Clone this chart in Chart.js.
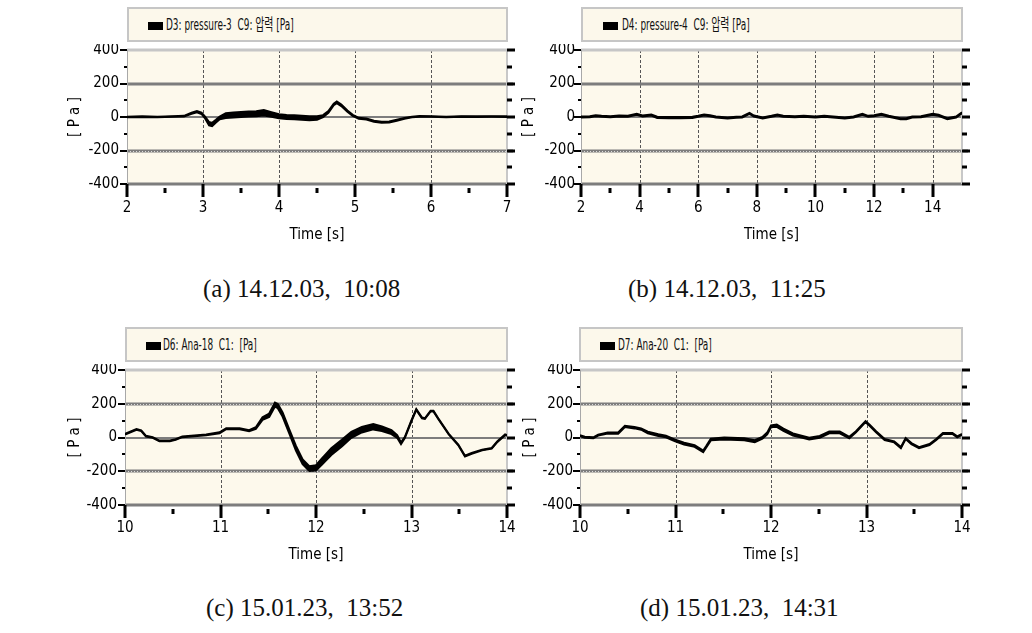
<!DOCTYPE html>
<html>
<head>
<meta charset="utf-8">
<script src="https://cdn.jsdelivr.net/npm/chart.js@4.4.1/dist/chart.umd.min.js"></script>
<style>
  html, body { margin:0; padding:0; background:#fff; }
  #page { position:relative; width:1032px; height:633px; overflow:hidden; background:#fff; }
  canvas { position:absolute; }
  .lg { position:absolute; box-sizing:border-box; border:2px solid #c6c6c6; background:#fcf8eb; height:35px; }
  .mk { position:absolute; width:15px; height:8px; background:#000; top:13px; }
  .tx { position:absolute; top:6px; line-height:19px; font-family:'Liberation Sans Narrow','DejaVu Sans Condensed','Liberation Sans','Noto Sans CJK KR',sans-serif; font-size:16px; color:#111; white-space:pre; transform:scaleX(0.62); transform-origin:0 50%; }
  .cap { position:absolute; font-family:'Liberation Serif','DejaVu Serif',serif; font-size:25px; line-height:30px; color:#111; white-space:pre; }
</style>
</head>
<body>
<div id="page">
  <div class="lg" style="left:127px;top:7px;width:381px;"><span class="mk" style="left:19px"></span><span class="tx" style="left:37px">D3: pressure-3  C9: 압력 [Pa]</span></div>
  <div class="lg" style="left:581px;top:7px;width:382px;"><span class="mk" style="left:20px"></span><span class="tx" style="left:39px">D4: pressure-4  C9: 압력 [Pa]</span></div>
  <div class="lg" style="left:125px;top:327px;width:383px;"><span class="mk" style="left:19px"></span><span class="tx" style="left:36px">D6: Ana-18  C1:  [Pa]</span></div>
  <div class="lg" style="left:579px;top:327px;width:384px;"><span class="mk" style="left:19px"></span><span class="tx" style="left:37px">D7: Ana-20  C1:  [Pa]</span></div>

  <canvas id="cA" width="460" height="210" style="left:60px;top:44px"></canvas>
  <canvas id="cB" width="460" height="210" style="left:520px;top:44px"></canvas>
  <canvas id="cC" width="460" height="210" style="left:60px;top:364px"></canvas>
  <canvas id="cD" width="460" height="210" style="left:520px;top:364px"></canvas>

  <div class="cap" style="left:203px;top:274px">(a) 14.12.03,  10:08</div>
  <div class="cap" style="left:628px;top:274px">(b) 14.12.03,  11:25</div>
  <div class="cap" style="left:206px;top:593px">(c) 15.01.23,  13:52</div>
  <div class="cap" style="left:640px;top:593px">(d) 15.01.23,  14:31</div>
</div>
<script>
// ---------------- data ----------------
// Panel (a): time [s], pressure [Pa], half-width of the noise band [Pa]
const timeA  = [2.0,2.2,2.4,2.6,2.75,2.85,2.92,2.98,3.03,3.08,3.12,3.17,3.22,3.3,3.4,3.5,3.6,3.7,3.8,3.9,4.0,4.1,4.2,4.3,4.4,4.5,4.58,4.65,4.72,4.76,4.82,4.9,4.97,5.05,5.15,5.25,5.35,5.45,5.55,5.65,5.75,5.85,6.0,6.2,6.4,6.6,6.8,7.0];
const pressA = [0,2,0,3,5,22,32,22,-5,-40,-45,-25,-5,8,12,15,18,20,25,15,5,0,-2,-5,-8,-6,5,30,75,88,70,35,10,-8,-12,-25,-32,-30,-20,-8,0,4,3,0,3,2,3,2];
const noiseA = [2,2,2,2,2,3,4,4,5,10,10,8,8,14,15,15,15,15,16,14,12,12,12,12,12,10,6,5,5,5,5,4,3,3,3,3,3,3,3,2,2,2,2,2,2,2,2,2];

// Panel (b)
const timeB  = [2.0,2.3,2.5,2.7,3.0,3.3,3.6,3.9,4.1,4.4,4.6,5.0,5.4,5.8,6.0,6.2,6.4,6.6,7.0,7.3,7.5,7.75,7.9,8.2,8.5,8.7,8.9,9.3,9.6,10.0,10.3,10.6,11.0,11.3,11.6,11.8,12.0,12.25,12.5,12.9,13.1,13.3,13.6,14.0,14.2,14.5,14.8,15.0];
const pressB = [0,2,8,4,2,6,4,16,6,12,-2,-4,-4,-2,4,12,8,0,-6,-2,0,22,6,-6,4,12,4,2,4,0,4,0,-6,0,16,4,8,16,4,-10,-10,0,2,16,10,-10,0,25];
const noiseB = [3,3,3,3,3,3,3,3,3,3,4,4,4,4,3,3,3,3,3,3,3,3,3,3,3,3,3,3,3,3,3,3,3,3,3,3,3,3,3,3,3,3,3,3,3,3,3,3];

// Panel (c)
const timeC  = [10.0,10.12,10.17,10.22,10.29,10.36,10.47,10.53,10.6,10.85,10.99,11.06,11.2,11.3,11.37,11.44,11.51,11.57,11.6,11.65,11.72,11.79,11.86,11.93,12.0,12.06,12.16,12.27,12.37,12.48,12.6,12.69,12.79,12.85,12.89,12.93,13.0,13.05,13.11,13.14,13.2,13.23,13.28,13.39,13.49,13.56,13.63,13.74,13.84,13.9,13.98,14.0];
const pressC = [20,48,40,8,0,-20,-20,-12,4,16,28,52,52,40,56,112,132,195,186,136,36,-64,-144,-184,-180,-144,-84,-34,16,46,64,52,32,6,-34,0,100,166,116,112,156,156,112,20,-44,-110,-94,-74,-64,-24,16,12];
const noiseC = [2,2,2,2,2,2,2,2,2,2,3,3,3,3,5,8,10,12,12,12,12,14,14,14,16,18,20,20,18,16,16,14,12,8,5,3,3,2,2,2,2,2,2,2,2,2,2,2,2,2,2,2];

// Panel (d)
const timeD  = [10.0,10.05,10.14,10.19,10.29,10.4,10.47,10.57,10.64,10.71,10.82,10.9,10.99,11.09,11.2,11.29,11.32,11.37,11.51,11.72,11.83,11.91,11.96,12.0,12.06,12.13,12.23,12.33,12.4,12.51,12.61,12.72,12.82,12.89,12.99,13.03,13.1,13.19,13.29,13.36,13.41,13.47,13.55,13.66,13.73,13.8,13.9,13.95,14.0];
const pressD = [10,2,-2,14,26,26,66,58,50,30,14,6,-16,-36,-50,-82,-56,-12,-6,-10,-22,-2,24,66,70,46,18,4,-6,4,30,30,0,34,94,74,34,-12,-26,-60,-6,-36,-60,-42,-12,24,24,4,18];
const noiseD = [3,3,3,3,3,4,4,4,4,5,5,5,5,5,5,5,4,5,6,6,6,5,5,6,7,7,6,5,5,5,5,5,4,3,3,3,3,3,3,3,3,3,3,3,3,3,3,3,3];

// axis ranges / tick labels
const yRange = [-400, 400];
const yStep = 200;
const xRangeA = [2, 7],   xStepA = 1;
const xRangeB = [2, 15],  xStepB = 2;
const xRangeC = [10, 14], xStepC = 1;
const xRangeD = [10, 14], xStepD = 1;
const xTitle = 'Time [s]';
const yTitle = '[ P a ]';

// ---------------- styling / drawing ----------------
const FONT = "'Liberation Sans Narrow','DejaVu Sans Condensed','Liberation Sans',sans-serif";

function seg(ctx, x1, y1, x2, y2) { ctx.beginPath(); ctx.moveTo(x1, y1); ctx.lineTo(x2, y2); ctx.stroke(); }

const decor = {
  id: 'decor',
  beforeDatasetsDraw(chart, args, o) {
    const { ctx, chartArea: a, scales: { x, y } } = chart;
    ctx.save();
    ctx.fillStyle = '#fdf9ec';
    ctx.fillRect(a.left, a.top, a.right - a.left, a.bottom - a.top);
    ctx.strokeStyle = '#555'; ctx.lineWidth = 1; ctx.setLineDash([3, 2]);
    x.ticks.forEach(t => {
      if (t.value > x.min && t.value < x.max) {
        const px = Math.round(x.getPixelForValue(t.value)) + 0.5;
        seg(ctx, px, a.top, px, a.bottom);
      }
    });
    ctx.setLineDash([]);
    y.ticks.forEach(t => {
      const py = Math.round(y.getPixelForValue(t.value));
      if (t.value === y.max) { ctx.strokeStyle = '#c6c6c6'; ctx.lineWidth = 3; seg(ctx, a.left, py, a.right, py); }
      else if (t.value === y.min) { ctx.strokeStyle = '#7d7d7d'; ctx.lineWidth = 3; seg(ctx, a.left, py, a.right, py); }
      else if (t.value === 0) { ctx.strokeStyle = '#7d7d7d'; ctx.lineWidth = 2; seg(ctx, a.left, py, a.right, py); }
      else {
        ctx.strokeStyle = '#7d7d7d'; ctx.lineWidth = 3; seg(ctx, a.left, py, a.right + 6, py);
        if (!(o.solidUpper && t.value > 0)) {
          ctx.strokeStyle = '#dcdcdc'; ctx.lineWidth = 1; ctx.setLineDash([1, 2]);
          seg(ctx, a.left, py + 0.5, a.right, py + 0.5); ctx.setLineDash([]);
        }
      }
    });
    ctx.strokeStyle = '#c8c8c8'; ctx.lineWidth = 2; seg(ctx, a.right, a.top, a.right, a.bottom);
    ctx.strokeStyle = '#a8a8a8'; ctx.lineWidth = 1; seg(ctx, a.left + 0.5, a.top, a.left + 0.5, a.bottom);
    ctx.restore();
  },
  afterDraw(chart) {
    const { ctx, chartArea: a, scales: { x, y } } = chart;
    ctx.save();
    ctx.strokeStyle = '#000';
    const yt = y.ticks.map(t => t.value);
    const xt = x.ticks.map(t => t.value);
    yt.forEach((v, i) => {
      const py = Math.round(y.getPixelForValue(v));
      ctx.lineWidth = 2; seg(ctx, a.left - 7, py, a.left, py);
      ctx.lineWidth = 3; seg(ctx, a.right, py, a.right + 8, py);
      if (i < yt.length - 1) {
        const pm = Math.round(y.getPixelForValue((v + yt[i + 1]) / 2));
        ctx.lineWidth = 2; seg(ctx, a.left - 3, pm, a.left, pm);
        ctx.lineWidth = 3; seg(ctx, a.right, pm, a.right + 5, pm);
      }
    });
    xt.forEach((v, i) => {
      const px = Math.round(x.getPixelForValue(v));
      ctx.lineWidth = 3; seg(ctx, px, a.bottom, px, a.bottom + 13);
      if (i < xt.length - 1) {
        const pm = Math.round(x.getPixelForValue((v + xt[i + 1]) / 2));
        seg(ctx, pm, a.bottom + 4, pm, a.bottom + 9);
      }
    });
    ctx.restore();
  }
};

function makePanel(id, times, press, noise, xRange, xStep, lay) {
  const hi = times.map((t, i) => ({ x: t, y: press[i] + noise[i] }));
  const lo = times.map((t, i) => ({ x: t, y: press[i] - noise[i] }));
  const tickFont = { family: FONT, size: 15 };
  return new Chart(document.getElementById(id), {
    type: 'line',
    data: {
      datasets: [
        { data: hi, borderColor: '#000', borderWidth: 2, pointRadius: 0, fill: false, tension: 0 },
        { data: lo, borderColor: '#000', borderWidth: 2, pointRadius: 0, fill: '-1', backgroundColor: '#000', tension: 0 }
      ]
    },
    options: {
      responsive: false, animation: false, events: [],
      layout: { padding: { left: 0, top: lay.top, right: lay.right, bottom: 0 } },
      plugins: { legend: { display: false }, tooltip: { enabled: false }, decor: { solidUpper: lay.solidUpper } },
      scales: {
        x: {
          type: 'linear', min: xRange[0], max: xRange[1],
          afterFit: s => { s.height = lay.xh; s.paddingLeft = 0; s.paddingRight = 0; },
          grid: { display: false, drawTicks: false }, border: { display: false },
          ticks: { stepSize: xStep, includeBounds: false, padding: lay.xpad, font: tickFont, color: '#000', maxRotation: 0, autoSkip: false },
          title: { display: true, text: xTitle, font: { family: FONT, size: 15 }, color: '#000', padding: { top: 0, bottom: lay.xtpad } }
        },
        y: {
          min: yRange[0], max: yRange[1],
          afterFit: s => { s.width = lay.yw; s.paddingTop = 0; s.paddingBottom = 0; },
          grid: { display: false, drawTicks: false }, border: { display: false },
          ticks: { stepSize: yStep, padding: lay.ypad, font: tickFont, color: '#000' },
          title: { display: true, text: yTitle, font: { family: FONT, size: 15 }, color: '#000', padding: { top: lay.ytpad, bottom: 0 } }
        }
      }
    },
    plugins: [decor]
  });
}

makePanel('cA', timeA, pressA, noiseA, xRangeA, xStepA, { top: 6, right: 13, yw: 67, xh: 70, xpad: 15, xtpad: 10, ypad: 8, ytpad: 6, solidUpper: true });
makePanel('cB', timeB, pressB, noiseB, xRangeB, xStepB, { top: 6, right: 18, yw: 61, xh: 70, xpad: 15, xtpad: 10, ypad: 6, ytpad: 0, solidUpper: true });
makePanel('cC', timeC, pressC, noiseC, xRangeC, xStepC, { top: 6, right: 13, yw: 65, xh: 69, xpad: 14, xtpad: 10, ypad: 8, ytpad: 6, solidUpper: false });
makePanel('cD', timeD, pressD, noiseD, xRangeD, xStepD, { top: 6, right: 18, yw: 60, xh: 69, xpad: 14, xtpad: 10, ypad: 7, ytpad: 1, solidUpper: false });
</script>
</body>
</html>
